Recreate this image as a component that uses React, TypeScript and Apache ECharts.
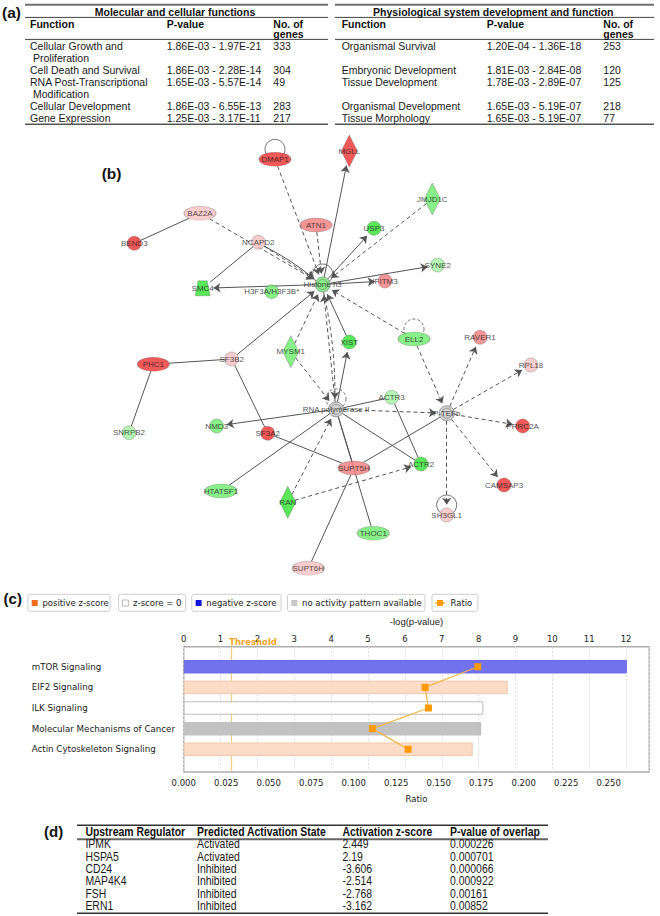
import React, { useEffect, useRef } from 'react';
import * as echarts from 'echarts';

// ---------------- (a) tables ----------------
const MOL_TITLE = 'Molecular and cellular functions';
const MOL_FUNCTIONS = [['Cellular Growth and', 'Proliferation'], ['Cell Death and Survival'], ['RNA Post-Transcriptional', 'Modification'], ['Cellular Development'], ['Gene Expression']];
const MOL_PVALUES = ['1.86E-03 - 1.97E-21', '1.86E-03 - 2.28E-14', '1.65E-03 - 5.57E-14', '1.86E-03 - 6.55E-13', '1.25E-03 - 3.17E-11'];
const MOL_GENES = ['333', '304', '49', '283', '217'];
const MOL_ROW_LINE = [0, 2, 3, 5, 6];

const PHYS_TITLE = 'Physiological system development and function';
const PHYS_FUNCTIONS = ['Organismal Survival', 'Embryonic Development', 'Tissue Development', 'Organismal Development', 'Tissue Morphology'];
const PHYS_PVALUES = ['1.20E-04 - 1.36E-18', '1.81E-03 - 2.84E-08', '1.78E-03 - 2.89E-07', '1.65E-03 - 5.19E-07', '1.65E-03 - 5.19E-07'];
const PHYS_GENES = ['253', '120', '125', '218', '77'];
const PHYS_ROW_LINE = [0, 2, 3, 5, 6];

// ---------------- (b) network ----------------
const NODE_NAMES = ['DMAP1', 'MGLL', 'BAZ2A', 'BEND3', 'NCAPD2', 'ATN1', 'USP3', 'JMJD1C', 'SYNE2', 'IFITM3', 'Histone h3', 'SMC4', 'H3F3A/H3F3B*', 'MYSM1', 'XIST', 'ELL2', 'SF3B2', 'PHC1', 'RAVER1', 'RPL18', 'RNA polymerase II', 'ACTR3', 'P-TEFb', 'PRRC2A', 'NMD3', 'SF3A2', 'SNRPB2', 'SUPT5H', 'ACTR2', 'CAMSAP3', 'SH3GL1', 'HTATSF1', 'RAN', 'THOC1', 'SUPT6H'];
const NODE_X = [275, 349.3, 200, 134.3, 258.3, 316, 374, 432.3, 437.7, 385, 322.7, 202.7, 271.7, 290.8, 349.3, 414, 231.7, 153.3, 480, 531, 336, 391.7, 446.7, 522.7, 216.7, 267.7, 129, 354, 421, 504, 446.7, 221, 287.8, 373.3, 308.3];
const NODE_Y = [159.3, 151, 213.3, 243.3, 242.3, 225, 228.3, 199, 265, 281, 284.5, 288.3, 291.7, 351.7, 342, 339, 359, 364.3, 337.3, 365, 409.3, 397.3, 413.3, 426, 426, 433.3, 432.7, 468, 464, 485, 515, 491, 502.3, 533.3, 568.3];
const NODE_TYPE = ['ellipse', 'diamond', 'ellipse', 'circle', 'circle', 'ellipse', 'circle', 'diamond', 'circle', 'circle', 'complex', 'trapezoid', 'circle', 'diamond', 'circle', 'ellipse', 'circle', 'ellipse', 'circle', 'circle', 'complex', 'circle', 'complex', 'circle', 'circle', 'circle', 'circle', 'ellipse', 'circle', 'circle', 'circle', 'ellipse', 'diamond', 'ellipse', 'ellipse'];
const NODE_EXPR = ['up3', 'up3', 'up1', 'up3', 'up1', 'up2', 'dn3', 'dn2', 'dn1', 'up2', 'dn2', 'dn3', 'dn2', 'dn2', 'dn3', 'dn2', 'up1', 'up3', 'up2', 'up1', 'none', 'dn1', 'none', 'up3', 'dn2', 'up3', 'dn1', 'up2', 'dn3', 'up3', 'up1', 'dn2', 'dn3', 'dn2', 'up1'];

// [source, target, kind, arrow]
const EDGES: [string, string, string, boolean][] = [
  ['DMAP1', 'Histone h3', 'indirect', true],
  ['BAZ2A', 'Histone h3', 'indirect', true],
  ['ATN1', 'Histone h3', 'indirect', true],
  ['JMJD1C', 'Histone h3', 'indirect', true],
  ['MYSM1', 'Histone h3', 'indirect', true],
  ['MYSM1', 'RNA polymerase II', 'indirect', true],
  ['ELL2', 'Histone h3', 'indirect', true],
  ['RNA polymerase II', 'Histone h3', 'indirect', true],
  ['Histone h3', 'RNA polymerase II', 'indirect', true],
  ['NCAPD2', 'Histone h3', 'indirect', true],
  ['ELL2', 'P-TEFb', 'indirect', true],
  ['RNA polymerase II', 'P-TEFb', 'indirect', true],
  ['RAN', 'RNA polymerase II', 'indirect', true],
  ['RAN', 'ACTR2', 'indirect', true],
  ['P-TEFb', 'RAVER1', 'indirect', true],
  ['P-TEFb', 'RPL18', 'indirect', true],
  ['P-TEFb', 'PRRC2A', 'indirect', true],
  ['P-TEFb', 'CAMSAP3', 'indirect', true],
  ['P-TEFb', 'SH3GL1', 'indirect', true],
  ['Histone h3', 'MGLL', 'direct', true],
  ['NCAPD2', 'Histone h3', 'direct', true],
  ['Histone h3', 'SMC4', 'direct', true],
  ['Histone h3', 'USP3', 'direct', true],
  ['Histone h3', 'SYNE2', 'direct', true],
  ['Histone h3', 'IFITM3', 'direct', true],
  ['SF3B2', 'Histone h3', 'direct', true],
  ['XIST', 'Histone h3', 'direct', true],
  ['RNA polymerase II', 'XIST', 'direct', true],
  ['RNA polymerase II', 'NMD3', 'direct', true],
  ['BAZ2A', 'BEND3', 'direct', false],
  ['NCAPD2', 'SMC4', 'direct', false],
  ['PHC1', 'SF3B2', 'direct', false],
  ['PHC1', 'SNRPB2', 'direct', false],
  ['SF3B2', 'SF3A2', 'direct', false],
  ['RNA polymerase II', 'ACTR3', 'direct', false],
  ['ACTR3', 'ACTR2', 'direct', false],
  ['RNA polymerase II', 'ACTR2', 'direct', false],
  ['RNA polymerase II', 'SUPT5H', 'direct', false],
  ['RNA polymerase II', 'HTATSF1', 'direct', false],
  ['RNA polymerase II', 'THOC1', 'direct', false],
  ['SF3A2', 'SUPT5H', 'direct', false],
  ['P-TEFb', 'SUPT5H', 'direct', false],
  ['SUPT5H', 'SUPT6H', 'direct', false],
];
const LOOPS: [string, string][] = [['DMAP1', 'direct'], ['Histone h3', 'direct'], ['ELL2', 'indirect'], ['RNA polymerase II', 'indirect'], ['SH3GL1', 'direct']];

// ---------------- (c) canonical pathways ----------------
const PATHWAYS = ['mTOR Signaling', 'EIF2 Signaling', 'ILK Signaling', 'Molecular Mechanisms of Cancer', 'Actin Cytoskeleton Signaling'];
const NEG_LOG_P = [12.02, 8.79, 8.13, 8.07, 7.84];
const RATIO = [0.173, 0.142, 0.144, 0.111, 0.132];
const Z_STATE = ['negative', 'positive', 'zero', 'none', 'positive'];
const THRESHOLD = 1.3;
const LOGP_MAX = 12.63;
const RATIO_MAX = 0.2739;
const LEGEND_LABELS = ['positive z-score', 'z-score = 0', 'negative z-score', 'no activity pattern available', 'Ratio'];
const LEGEND_KEYS = ['positive', 'zero', 'negative', 'none', 'ratio'];

// ---------------- (d) upstream regulators ----------------
const D_HEADERS = ['Upstream Regulator', 'Predicted Activation State', 'Activation z-score', 'P-value of overlap'];
const D_REGULATOR = ['IPMK', 'HSPA5', 'CD24', 'MAP4K4', 'FSH', 'ERN1'];
const D_STATE = ['Activated', 'Activated', 'Inhibited', 'Inhibited', 'Inhibited', 'Inhibited'];
const D_ZSCORE = ['2.449', '2.19', '-3.606', '-2.514', '-2.768', '-3.162'];
const D_PVALUE = ['0.000226', '0.000701', '0.000066', '0.000922', '0.00161', '0.00852'];

// ---------------- styles ----------------
const ARIAL = '"Liberation Sans", Arial, Helvetica, sans-serif';
const DEJAVU = '"DejaVu Sans", Verdana, sans-serif';
const EXPR_COLOR: Record<string, string> = { up3: '#ee2e2e', up2: '#f27a7a', up1: '#f7c0c0', dn3: '#2fe02f', dn2: '#6ceb6c', dn1: '#a2f1a2', none: '#c4c4c4' };
const SHAPE_SIZE: Record<string, [number, number]> = { circle: [14, 14], ellipse: [32, 14], diamond: [16, 32], trapezoid: [15, 15], complex: [15, 15] };
const SHAPE_SYMBOL: Record<string, string> = { circle: 'circle', ellipse: 'circle', diamond: 'diamond', trapezoid: 'path://M3,0 L12,0 L15,15 L0,15 Z', complex: 'circle' };
const BAR_STYLE: Record<string, { color: string; borderColor: string; borderWidth: number }> = {
  negative: { color: '#7272ee', borderColor: '#6a6ae6', borderWidth: 1 },
  positive: { color: '#fcdcc6', borderColor: '#f1c8ad', borderWidth: 1 },
  zero: { color: '#ffffff', borderColor: '#bdbdbd', borderWidth: 1 },
  none: { color: '#c2c2c2', borderColor: '#c2c2c2', borderWidth: 0 },
};
const SWATCH: Record<string, string> = { positive: '#f26a1b', zero: '#ffffff', negative: '#1515e0', none: '#c6c6c6' };

function txt(text: string, x: number, y: number, size: number, o: any = {}) {
  const align = o.align || 'left';
  return {
    type: 'text', x, y, silent: true, z: 10, scaleX: o.scaleX || 1,
    style: {
      text, fill: o.color || '#111',
      font: `${o.bold ? 'bold ' : ''}${size}px ${o.family || ARIAL}`,
      textAlign: align, textVerticalAlign: 'middle', align, verticalAlign: 'middle',
    },
  };
}
function hline(x1: number, x2: number, y: number, w: number, color: string) {
  return { type: 'line', silent: true, z: 10, shape: { x1, y1: y, x2, y2: y }, style: { stroke: color, lineWidth: w } };
}

function nodeRadius(i: number, ux: number, uy: number) {
  const t = NODE_TYPE[i];
  const [w, h] = SHAPE_SIZE[t];
  const a = w / 2, b = h / 2;
  if (t === 'diamond') return 1 / (Math.abs(ux) / a + Math.abs(uy) / b);
  if (t === 'trapezoid') return Math.min(a / Math.max(Math.abs(ux), 1e-6), b / Math.max(Math.abs(uy), 1e-6));
  return 1 / Math.sqrt((ux / a) ** 2 + (uy / b) ** 2);
}

function buildOption() {
  const idx = (n: string) => NODE_NAMES.indexOf(n);
  // edges
  const edgeGroups: Record<string, any[]> = { 'direct-a': [], 'direct-n': [], 'indirect-a': [], 'indirect-n': [] };
  const seen: Record<string, number> = {};
  EDGES.forEach(([s, t, kind, arrow]) => {
    const i = idx(s), j = idx(t);
    const dx = NODE_X[j] - NODE_X[i], dy = NODE_Y[j] - NODE_Y[i];
    const len = Math.sqrt(dx * dx + dy * dy);
    const ux = dx / len, uy = dy / len;
    const rs = nodeRadius(i, ux, uy);
    const rt = nodeRadius(j, ux, uy);
    const endOff = arrow ? rt + 3.2 : rt;
    const key = [s, t].sort().join('|');
    seen[key] = (seen[key] || 0) + 1;
    const curv = seen[key] === 1 ? 0 : (seen[key] === 2 ? 0.06 : -0.06);
    edgeGroups[`${kind}-${arrow ? 'a' : 'n'}`].push({
      coords: [[NODE_X[i] + ux * rs, NODE_Y[i] + uy * rs], [NODE_X[j] - ux * endOff, NODE_Y[j] - uy * endOff]],
      lineStyle: { curveness: curv },
    });
  });
  const edgeSeries = Object.keys(edgeGroups).map((k) => ({
    type: 'lines', coordinateSystem: 'cartesian2d', xAxisIndex: 0, yAxisIndex: 0, silent: true, z: 2,
    symbol: k.endsWith('-a') ? ['none', 'arrow'] : ['none', 'none'], symbolSize: 7,
    lineStyle: { color: '#555', width: 1, opacity: 1, type: k.startsWith('indirect') ? [4, 3] : 'solid' },
    data: edgeGroups[k],
  }));

  const nodeData = NODE_NAMES.map((n, i) => ({
    name: n, value: [NODE_X[i], NODE_Y[i]],
    symbol: SHAPE_SYMBOL[NODE_TYPE[i]], symbolSize: SHAPE_SIZE[NODE_TYPE[i]],
    itemStyle: { color: EXPR_COLOR[NODE_EXPR[i]], borderColor: NODE_TYPE[i] === 'complex' ? '#8a8a8a' : 'rgba(90,90,90,0.55)', borderWidth: NODE_TYPE[i] === 'complex' ? 1 : 0.7 },
  }));
  const ringData = NODE_NAMES.map((n, i) => ({ n, i })).filter((d) => NODE_TYPE[d.i] === 'complex').map((d) => ({ name: d.n, value: [NODE_X[d.i], NODE_Y[d.i]] }));
  const loopData = LOOPS.map(([n, kind]) => {
    const i = idx(n);
    const h = SHAPE_SIZE[NODE_TYPE[i]][1];
    return { name: n, value: [NODE_X[i], NODE_Y[i] - h / 2 - 3], itemStyle: { borderType: kind === 'indirect' ? [3, 2] : 'solid' } };
  });
  const labelData = NODE_NAMES.map((n, i) => ({ name: n, value: [NODE_X[i], NODE_Y[i]] }));

  // legend (c) graphic
  const LBOX_X = [27.9, 118.6, 191.8, 287.5, 432];
  const LBOX_W = [82.1, 67.1, 89.2, 137.5, 45.9];
  const legendEls: any[] = [];
  LEGEND_KEYS.forEach((k, i) => {
    const x = LBOX_X[i];
    legendEls.push({ type: 'rect', silent: true, z: 10, shape: { x, y: 594.3, width: LBOX_W[i], height: 17, r: 2 }, style: { fill: '#fff', stroke: '#cfcfcf', lineWidth: 1 } });
    if (k === 'ratio') {
      legendEls.push({ type: 'line', silent: true, z: 11, shape: { x1: x + 3, y1: 603, x2: x + 13, y2: 603 }, style: { stroke: '#f3b54a', lineWidth: 1.5 } });
      legendEls.push({ type: 'rect', silent: true, z: 12, shape: { x: x + 5, y: 600, width: 6, height: 6 }, style: { fill: '#ff9a00' } });
      legendEls.push(txt(LEGEND_LABELS[i], x + 18.5, 603.2, 8.5, { family: DEJAVU, color: '#222' }));
    } else {
      legendEls.push({ type: 'rect', silent: true, z: 11, shape: { x: x + 3.8, y: 600, width: 6, height: 6 }, style: { fill: SWATCH[k], stroke: k === 'zero' ? '#aaa' : SWATCH[k], lineWidth: k === 'zero' ? 0.8 : 0 } });
      legendEls.push(txt(LEGEND_LABELS[i], x + 14.5, 603.2, 8.5, { family: DEJAVU, color: '#222' }));
    }
  });

  // tables (a)
  const lineY = (k: number) => 45.7 + 12.1 * k;
  const tableEls: any[] = [];
  const buildA = (x0: number, x1: number, cols: number[], title: string, titleX: number, funcs: any[], pvals: string[], genes: string[], rowLine: number[]) => {
    tableEls.push(hline(x0, x1, 4.8, 2, '#6e6e6e'));
    tableEls.push(hline(x0, x1, 17.4, 1, '#444'));
    tableEls.push(hline(x0, x1, 39.4, 1, '#444'));
    tableEls.push(hline(x0, x1, 124.3, 1.5, '#555'));
    tableEls.push(txt(title, titleX, 11.6, 10.5, { bold: true, align: 'center' }));
    tableEls.push(txt('Function', cols[0], 23.8, 10.5, { bold: true }));
    tableEls.push(txt('P-value', cols[1], 23.8, 10.5, { bold: true }));
    tableEls.push(txt('No. of', cols[2], 23.8, 10.5, { bold: true }));
    tableEls.push(txt('genes', cols[2], 34.3, 10.5, { bold: true }));
    funcs.forEach((f: any, r: number) => {
      const lines = Array.isArray(f) ? f : [f];
      lines.forEach((l: string, q: number) => tableEls.push(txt(l, cols[0] + (q > 0 ? 3 : 0), lineY(rowLine[r] + q), 10.5, { color: '#1a1a1a' })));
      tableEls.push(txt(pvals[r], cols[1], lineY(rowLine[r]), 10.5, { color: '#1a1a1a' }));
      tableEls.push(txt(genes[r], cols[2], lineY(rowLine[r]), 10.5, { color: '#1a1a1a' }));
    });
  };
  buildA(25, 328, [30, 166.7, 273.3], MOL_TITLE, 175, MOL_FUNCTIONS, MOL_PVALUES, MOL_GENES, MOL_ROW_LINE);
  buildA(335, 654, [341.7, 486.7, 603.3], PHYS_TITLE, 493.3, PHYS_FUNCTIONS, PHYS_PVALUES, PHYS_GENES, PHYS_ROW_LINE);

  // table (d)
  const D_COLS = [85.4, 197, 342.5, 450];
  tableEls.push(hline(77, 548, 825.3, 1.5, '#333'));
  tableEls.push(hline(77, 548, 839.3, 2, '#666'));
  tableEls.push(hline(77, 548, 913.3, 1.5, '#333'));
  D_HEADERS.forEach((h, c) => tableEls.push(txt(h, D_COLS[c], 832, 12, { bold: true, scaleX: 0.87 })));
  D_REGULATOR.forEach((r, i) => {
    const y = 844 + 12.35 * i;
    [r, D_STATE[i], D_ZSCORE[i], D_PVALUE[i]].forEach((v, c) => tableEls.push(txt(v, D_COLS[c], y, 12, { color: '#1a1a1a', scaleX: 0.87 })));
  });

  const panelLabels = [
    txt('(a)', 2, 12.3, 15.5, { bold: true }),
    txt('(b)', 101.7, 173.3, 15.5, { bold: true }),
    txt('(c)', 3.6, 598, 15, { bold: true }),
    txt('(d)', 44, 831, 15, { bold: true }),
    txt('Threshold', 253, 641.7, 8.5, { bold: true, family: DEJAVU, color: '#f2a31f', align: 'center' }),
  ];

  const barData = NEG_LOG_P.map((v, i) => ({ value: v, itemStyle: BAR_STYLE[Z_STATE[i]] }));

  return {
    animation: false,
    backgroundColor: '#ffffff',
    grid: [
      { left: 0, top: 0, right: 0, bottom: 0 },
      { left: 183.7, right: 10.7, top: 656.4, bottom: 156.4 },
      { left: 183.7, right: 10.7, top: 646.7, bottom: 144, show: true, borderColor: '#adadad', borderWidth: 1.5, backgroundColor: 'transparent' },
    ],
    xAxis: [
      { gridIndex: 0, type: 'value', min: 0, max: 660, show: false },
      { gridIndex: 1, type: 'value', min: 0, max: LOGP_MAX, show: false },
      { gridIndex: 1, type: 'value', min: 0, max: RATIO_MAX, show: false },
      {
        gridIndex: 2, type: 'value', position: 'top', min: 0, max: LOGP_MAX, interval: 1,
        name: '-log(p-value)', nameLocation: 'middle', nameGap: 20,
        nameTextStyle: { fontFamily: ARIAL, fontSize: 9.5, color: '#222' },
        axisLine: { show: false }, axisTick: { show: false },
        axisLabel: { margin: 3, fontFamily: DEJAVU, fontSize: 8.5, color: '#222', showMaxLabel: false },
        splitLine: { show: true, lineStyle: { type: [2, 2], color: '#dcdcdc', width: 1 } },
      },
      {
        gridIndex: 2, type: 'value', position: 'bottom', min: 0, max: RATIO_MAX, interval: 0.025,
        name: 'Ratio', nameLocation: 'middle', nameGap: 22,
        nameTextStyle: { fontFamily: DEJAVU, fontSize: 8.5, color: '#222' },
        axisLine: { show: false }, axisTick: { show: false }, splitLine: { show: false },
        axisLabel: { margin: 6, fontFamily: DEJAVU, fontSize: 8.5, color: '#222', showMaxLabel: false, formatter: (v: number) => v.toFixed(3) },
      },
    ],
    yAxis: [
      { gridIndex: 0, type: 'value', min: 0, max: 916, inverse: true, show: false },
      {
        gridIndex: 1, type: 'category', data: PATHWAYS, inverse: true,
        axisLine: { show: false }, axisTick: { show: false }, splitLine: { show: false },
        axisLabel: { align: 'left', margin: 152, fontFamily: DEJAVU, fontSize: 8.7, color: '#1a1a1a' },
      },
      { gridIndex: 2, type: 'value', min: 0, max: 1, show: false },
    ],
    series: [
      ...edgeSeries,
      {
        type: 'scatter', name: 'loops', xAxisIndex: 0, yAxisIndex: 0, silent: true, z: 2,
        symbol: 'circle', symbolSize: 20,
        itemStyle: { color: 'rgba(0,0,0,0)', borderColor: '#555', borderWidth: 1 },
        data: loopData,
      },
      { type: 'scatter', name: 'nodes', xAxisIndex: 0, yAxisIndex: 0, silent: true, z: 3, data: nodeData },
      {
        type: 'scatter', name: 'rings', xAxisIndex: 0, yAxisIndex: 0, silent: true, z: 4,
        symbol: 'circle', symbolSize: 10,
        itemStyle: { color: 'rgba(0,0,0,0)', borderColor: '#7e7e7e', borderWidth: 0.8 },
        data: ringData,
      },
      {
        type: 'scatter', name: 'labels', xAxisIndex: 0, yAxisIndex: 0, silent: true, z: 5,
        symbol: 'circle', symbolSize: 1, itemStyle: { color: 'rgba(0,0,0,0)' },
        label: { show: true, position: 'inside', formatter: '{b}', fontFamily: ARIAL, fontSize: 8, color: '#1e1e1e' },
        data: labelData,
      },
      {
        type: 'line', name: 'threshold', xAxisIndex: 3, yAxisIndex: 2, silent: true, z: 1,
        symbol: 'none', lineStyle: { color: '#f6c46a', width: 1 },
        data: [[THRESHOLD, 0], [THRESHOLD, 1]],
      },
      {
        type: 'bar', name: '-log(p-value)', xAxisIndex: 1, yAxisIndex: 1, silent: true, z: 2,
        barWidth: 13.5, data: barData,
      },
      {
        type: 'line', name: 'Ratio', xAxisIndex: 2, yAxisIndex: 1, silent: true, z: 4,
        symbol: 'rect', symbolSize: 7,
        itemStyle: { color: '#ff9a00' }, lineStyle: { color: '#f3b54a', width: 1.2 },
        data: RATIO,
      },
    ],
    graphic: { elements: [...tableEls, ...legendEls, ...panelLabels] },
  };
}

export default function App() {
  const ref = useRef<HTMLDivElement>(null);
  useEffect(() => {
    if (!ref.current) return;
    const chart = echarts.init(ref.current, null, { renderer: 'svg' });
    chart.setOption(buildOption() as any);
    return () => chart.dispose();
  }, []);
  return <div ref={ref} style={{ position: 'absolute', left: 0, top: 0, width: 660, height: 916, background: '#fff' }} />;
}
